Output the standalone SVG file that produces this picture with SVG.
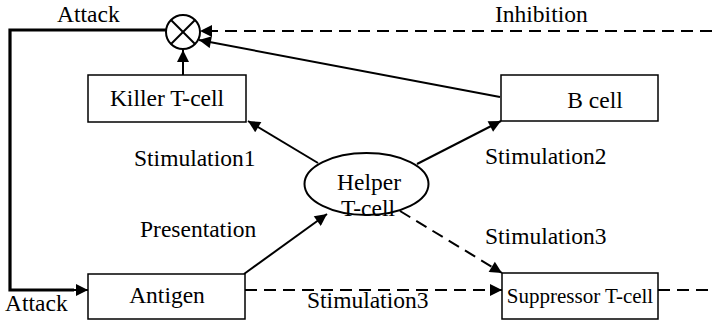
<svg xmlns="http://www.w3.org/2000/svg" width="712" height="325" viewBox="0 0 712 325">
<style>
.box{fill:#fff;stroke:#000;stroke-width:1.5}
.ln{fill:none;stroke:#000;stroke-width:2}
.dash{stroke-dasharray:12,7}
.thick{fill:none;stroke:#000;stroke-width:3.2}
</style>
<defs>
<marker id="ah" viewBox="0 0 10 10" refX="10" refY="5" markerWidth="16" markerHeight="12" markerUnits="userSpaceOnUse" orient="auto">
<path d="M0,0 L10,5 L0,10 z" fill="#000"/>
</marker>
</defs>
<rect width="712" height="325" fill="#fff"/>
<g id="connectors">
<polyline class="thick" points="167,30 10,30 10,290 74,290"/>
<line class="ln" x1="72" y1="290" x2="88" y2="290" marker-end="url(#ah)"/>
<line class="ln dash" x1="712" y1="31" x2="200" y2="31" marker-end="url(#ah)"/>
<line class="ln" x1="500" y1="97" x2="199" y2="40" marker-end="url(#ah)"/>
<line class="ln" x1="183" y1="75" x2="183" y2="50" marker-end="url(#ah)"/>
<line class="ln" x1="318" y1="163" x2="248" y2="121" marker-end="url(#ah)"/>
<line class="ln" x1="417" y1="164" x2="501" y2="121" marker-end="url(#ah)"/>
<line class="ln" x1="244" y1="274" x2="327" y2="214" marker-end="url(#ah)"/>
<line class="ln dash" x1="400" y1="211" x2="502" y2="273" marker-end="url(#ah)"/>
<line class="ln dash" x1="245" y1="290" x2="502" y2="290" marker-end="url(#ah)"/>
<line class="ln dash" x1="658" y1="290" x2="712" y2="290"/>
<text x="57" y="22" font-family="Liberation Serif" font-size="23.5">Attack</text>
<text x="495" y="22" font-family="Liberation Serif" font-size="23.5">Inhibition</text>
<text x="134" y="166" font-family="Liberation Serif" font-size="23.5">Stimulation1</text>
<text x="485" y="164" font-family="Liberation Serif" font-size="23.5">Stimulation2</text>
<text x="140" y="237" font-family="Liberation Serif" font-size="23.5">Presentation</text>
<text x="485" y="244" font-family="Liberation Serif" font-size="23.5">Stimulation3</text>
<text x="307" y="308" font-family="Liberation Serif" font-size="23.5">Stimulation3</text>
<text x="5" y="311" font-family="Liberation Serif" font-size="23.5">Attack</text>
</g>
<g id="junction">
<circle cx="183" cy="32" r="17" fill="#fff" stroke="#000" stroke-width="2"/>
<line class="ln" x1="171" y1="20" x2="195" y2="44"/>
<line class="ln" x1="195" y1="20" x2="171" y2="44"/>
</g>
<g id="killer">
<rect class="box" x="88" y="75" width="158" height="47"/>
<text x="167" y="106" text-anchor="middle" font-family="Liberation Serif" font-size="23.5">Killer T-cell</text>
</g>
<g id="bcell">
<rect class="box" x="501" y="75" width="157" height="46"/>
<text x="595" y="108" text-anchor="middle" font-family="Liberation Serif" font-size="23.5">B cell</text>
</g>
<g id="helper">
<ellipse cx="366.5" cy="184" rx="62" ry="31" fill="#fff" stroke="#000" stroke-width="2"/>
<text x="369" y="190" text-anchor="middle" font-family="Liberation Serif" font-size="23.5">Helper</text>
<text x="368" y="216" text-anchor="middle" font-family="Liberation Serif" font-size="23.5">T-cell</text>
</g>
<g id="antigen">
<rect class="box" x="88" y="274" width="157" height="45"/>
<text x="167" y="303" text-anchor="middle" font-family="Liberation Serif" font-size="23.5">Antigen</text>
</g>
<g id="suppressor">
<rect class="box" x="502" y="273" width="156" height="46"/>
<text x="580" y="303" text-anchor="middle" font-family="Liberation Serif" font-size="21">Suppressor T-cell</text>
</g>
</svg>
